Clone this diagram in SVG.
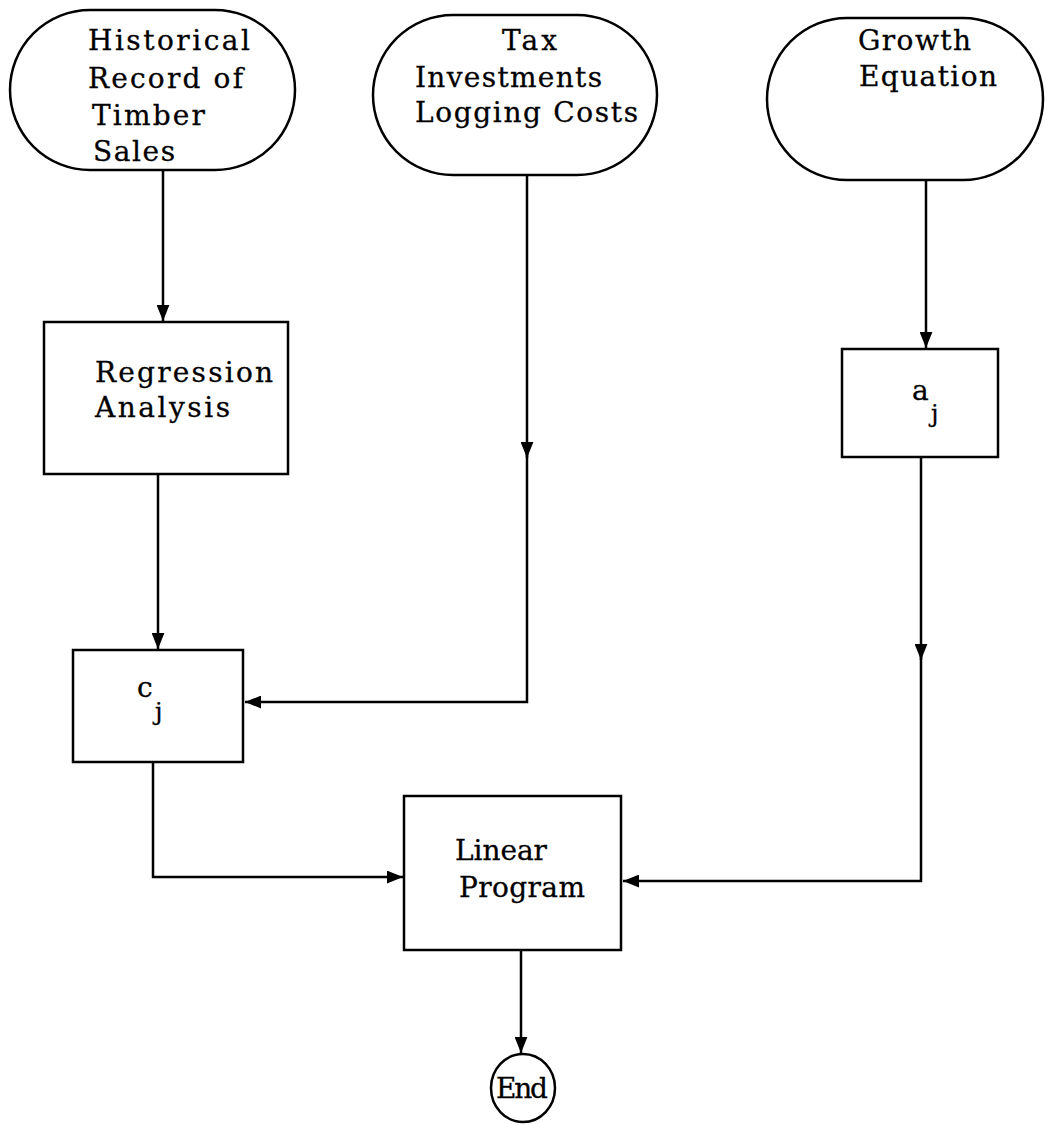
<svg xmlns="http://www.w3.org/2000/svg" width="1045" height="1124" viewBox="0 0 1045 1124">
<style>
.shape{fill:#fff;stroke:#000;stroke-width:2.5}
.conn{fill:none;stroke:#000;stroke-width:2.5}
text{font-family:"DejaVu Serif","Liberation Serif",serif;font-size:28px;fill:#000;stroke:#000;stroke-width:0.3}
.sub{font-size:24px}
</style>
<defs>
<marker id="ah" viewBox="0 0 10 8" refX="10" refY="4" markerWidth="6.5" markerHeight="5.2" orient="auto" markerUnits="strokeWidth">
<path d="M0,0 L10,4 L0,8 z" fill="#000"/>
</marker>
</defs>
<g id="connectors">
<path class="conn" d="M163,170 V321" marker-end="url(#ah)"/>
<path class="conn" d="M158,474 V649" marker-end="url(#ah)"/>
<path class="conn" d="M527,175 V458" marker-end="url(#ah)"/>
<path class="conn" d="M527,450 V702 H245" marker-end="url(#ah)"/>
<path class="conn" d="M926,180 V348" marker-end="url(#ah)"/>
<path class="conn" d="M921,457 V660" marker-end="url(#ah)"/>
<path class="conn" d="M921,650 V881 H623" marker-end="url(#ah)"/>
<path class="conn" d="M153,762 V877 H403" marker-end="url(#ah)"/>
<path class="conn" d="M521,950 V1053" marker-end="url(#ah)"/>
</g>
<g id="n-historical">
<rect class="shape" x="10" y="10" width="285" height="160" rx="80" ry="80"/>
<text x="88" y="50" textLength="162" lengthAdjust="spacing">Historical</text>
<text x="88" y="88" textLength="155" lengthAdjust="spacing">Record of</text>
<text x="92" y="125" textLength="113" lengthAdjust="spacing">Timber</text>
<text x="93" y="161" textLength="82" lengthAdjust="spacing">Sales</text>
</g>
<g id="n-tax">
<rect class="shape" x="373" y="15" width="284" height="160" rx="80" ry="80"/>
<text x="502" y="50" textLength="55" lengthAdjust="spacing">Tax</text>
<text x="415" y="87" textLength="187" lengthAdjust="spacing">Investments</text>
<text x="415" y="122" textLength="223" lengthAdjust="spacing">Logging Costs</text>
</g>
<g id="n-growth">
<rect class="shape" x="767" y="18" width="276" height="162" rx="80" ry="81"/>
<text x="858" y="50" textLength="113" lengthAdjust="spacing">Growth</text>
<text x="859" y="86" textLength="138" lengthAdjust="spacing">Equation</text>
</g>
<g id="n-regression">
<rect class="shape" x="44" y="322" width="244" height="152"/>
<text x="95" y="382" textLength="178" lengthAdjust="spacing">Regression</text>
<text x="95" y="417" textLength="135" lengthAdjust="spacing">Analysis</text>
</g>
<g id="n-aj">
<rect class="shape" x="842" y="349" width="156" height="108"/>
<text x="912" y="400">a</text>
<text class="sub" x="931" y="422">j</text>
</g>
<g id="n-cj">
<rect class="shape" x="73" y="650" width="170" height="112"/>
<text x="137" y="697">c</text>
<text class="sub" x="155" y="720">j</text>
</g>
<g id="n-linear">
<rect class="shape" x="404" y="796" width="217" height="154"/>
<text x="455" y="860" textLength="92" lengthAdjust="spacing">Linear</text>
<text x="459" y="897" textLength="126" lengthAdjust="spacing">Program</text>
</g>
<g id="n-end">
<ellipse class="shape" cx="523" cy="1088" rx="32" ry="34"/>
<text x="496" y="1098" textLength="52" lengthAdjust="spacing">End</text>
</g>
</svg>
